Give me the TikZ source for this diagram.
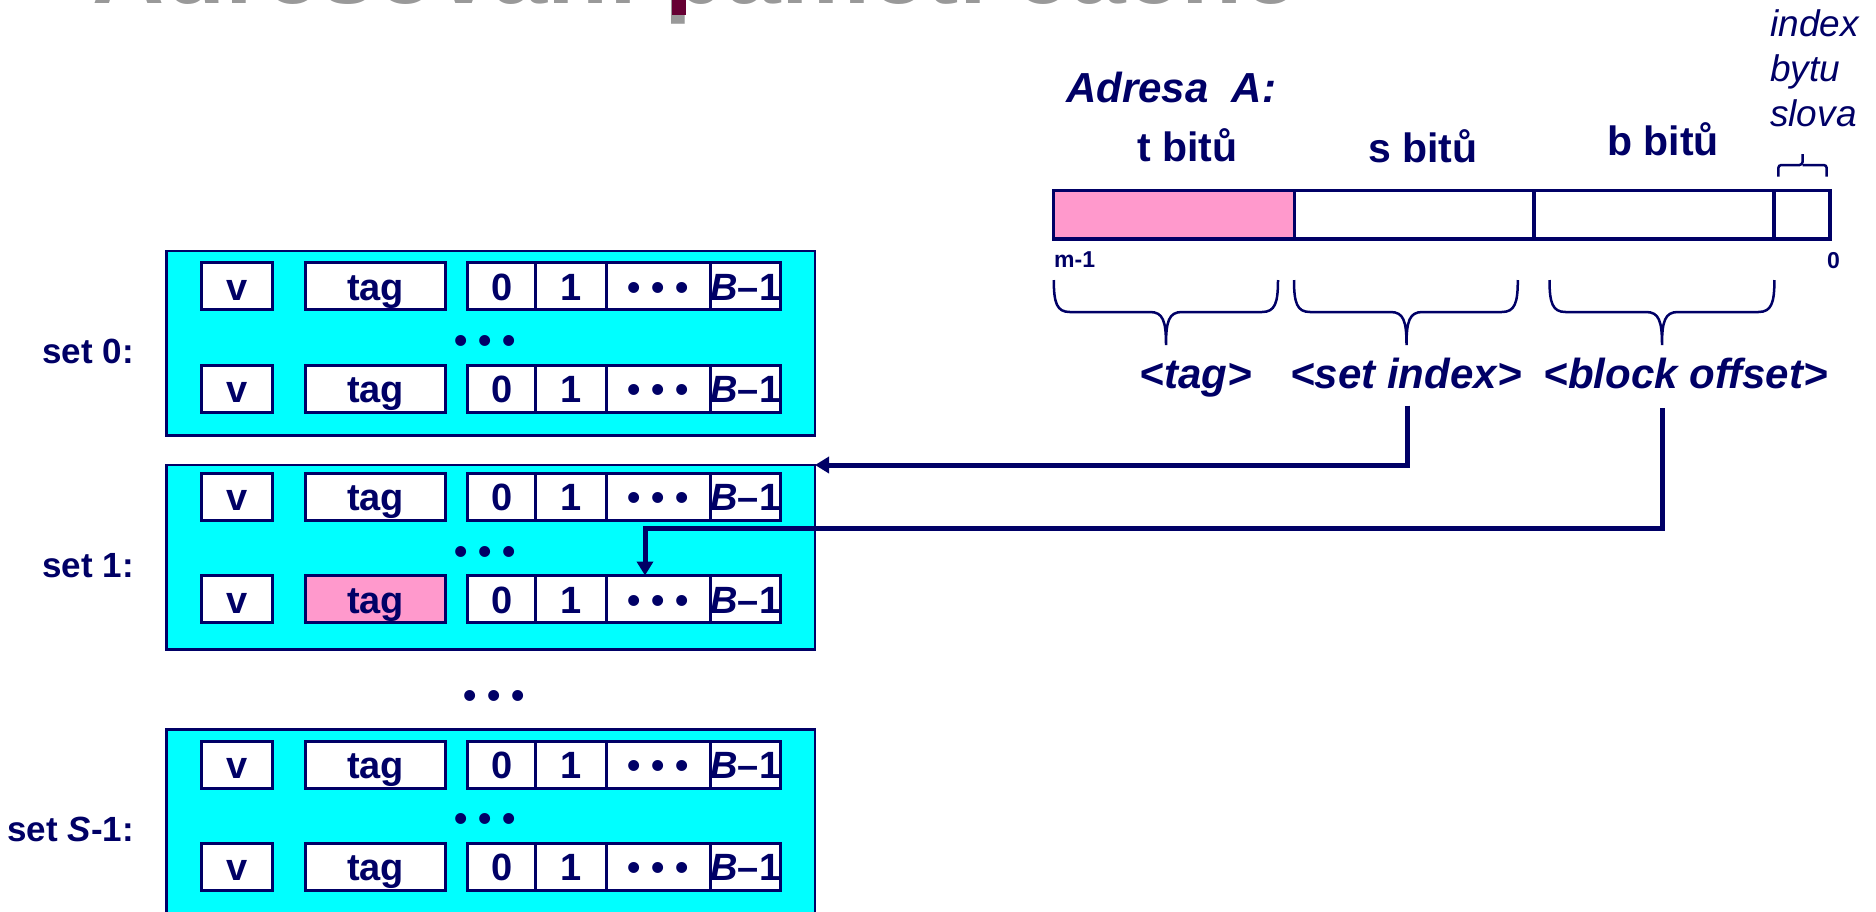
\documentclass[tikz,border=0pt]{standalone}
\usepackage{fontspec}
\setmainfont{Liberation Sans}
\usetikzlibrary{positioning,arrows.meta}

\definecolor{navy}{RGB}{0,0,102}
\definecolor{tagpink}{RGB}{255,153,204}
\definecolor{setcyan}{RGB}{0,255,255}
\definecolor{titlegray}{RGB}{153,153,153}
\definecolor{titlebar}{RGB}{102,0,51}

\begin{document}
\begin{tikzpicture}[x=1pt,y=-1pt]
		\tikzset{setbox/.style={draw=navy,fill=setcyan,line width=2.5pt,outer sep=0pt,minimum width=648.5pt,minimum height=184.5pt,anchor=north west}}
		\tikzset{cell/.style={draw=navy,fill=white,line width=3pt,inner sep=0pt,outer sep=0pt,
				minimum height=47pt,text height=28pt,text depth=0pt,text=navy,
				font=\bfseries\fontsize{38}{40}\selectfont}}
		\tikzset{dots/.style={text=navy,inner sep=0pt,text height=28pt,text depth=0pt,font=\bfseries\fontsize{38}{40}\selectfont}}
		\tikzset{setlbl/.style={text=navy,inner sep=0pt,anchor=base east,font=\bfseries\fontsize{35}{38}\selectfont}}
		\tikzset{field/.style={draw=navy,line width=3.5pt,inner sep=0pt,outer sep=0pt,minimum height=48.5pt}}
		\tikzset{bits/.style={text=navy,inner sep=0pt,anchor=base,font=\bfseries\fontsize{41}{44}\selectfont}}
		\tikzset{fld/.style={text=navy,inner sep=0pt,anchor=base,font=\bfseries\itshape\fontsize{42}{44}\selectfont}}
		\tikzset{tick/.style={text=navy,inner sep=0pt,font=\bfseries\fontsize{23}{25}\selectfont}}
		\tikzset{brc/.style={draw=navy,line width=2.5pt}}
		\tikzset{conn/.style={draw=navy,line width=5pt,-{Triangle[length=14pt,width=16pt]}}}
		\useasboundingbox (0,0) rectangle (1876,911);

		% slide heading, cut by the top edge
		\begin{scope}
			\clip (0,0) rectangle (1876,911);
			\node[anchor=base west,inner sep=0pt,text=titlegray,font=\bfseries\fontsize{100}{100}\selectfont] (title) at (92,3) {Adresování paměti cache};
			\fill[titlebar] (672,-10) rectangle (686,15);
		\end{scope}

		% the sets
		\node[setbox] (set0) at (166.5,251) {};
		\node[setbox] (set1) at (166.5,465) {};
		\node[setbox] (setS) at (166.5,729.3) {};
		\foreach \s/\r/\y/\tagfill in {0/a/286.2/white,0/b/388.5/white,1/a/496.7/white,1/b/599/tagpink,S/a/764.7/white,S/b/866.8/white}{
			\node[cell,minimum width=70.8pt] (v\s\r) at (236.9,\y) {v};
			\node[cell,minimum width=139.6pt,fill=\tagfill] (tag\s\r) at (375.5,\y) {tag};
			\node[cell,minimum width=68pt,anchor=west] (b0\s\r) at (467.7,\y) {0};
			\node[cell,minimum width=70.8pt,right=0pt of b0\s\r] (b1\s\r) {1};
			\node[cell,minimum width=104pt,right=0pt of b1\s\r] (bd\s\r) {• • •};
			\node[cell,minimum width=69.5pt,right=0pt of bd\s\r] (bl\s\r) {\textit{B}–1};
		}
		\foreach \s/\y in {0/339,1/550,S/817.7}
			\node[dots] (gap\s) at (485,\y) {• • •};
		\node[dots] (gapsets) at (494,694) {• • •};
		\node[setlbl] (lbl0) at (134,363) {set 0:};
		\node[setlbl] (lbl1) at (134,577) {set 1:};
		\node[setlbl] (lblS) at (134,841.5) {set \textit{S}-1:};

		% address A
		\node[field,fill=tagpink,minimum width=240.8pt,anchor=west] (tfld) at (1053.5,214.75) {};
		\node[field,minimum width=239.9pt,right=0pt of tfld] (sfld) {};
		\node[field,minimum width=240pt,right=0pt of sfld] (bfld) {};
		\node[field,minimum width=55.8pt,right=0pt of bfld] (wfld) {};
		\node[fld,anchor=base west] (adr) at (1066,102) {Adresa\ \ A:};
		\node[bits] (tbits) at (1187.5,161.7) {t bitů};
		\node[bits] (sbits) at (1423,162) {s bitů};
		\node[bits] (bbits) at (1663,155) {b bitů};
		\node[tick,anchor=base west] (msb) at (1054,267.3) {m-1};
		\node[tick,anchor=base east] (lsb) at (1840,268.3) {0};
		\foreach \a/\b/\m in {1053.8/1278/1166,1294/1517.8/1406.5,1549.5/1774.4/1662}
			\draw[brc] (\a,280) .. controls (\a,303) and (\a+3,312) .. (\a+16,312) -- (\m-16,312) .. controls (\m-3,312) and (\m,321) .. (\m,345)
				.. controls (\m,321) and (\m+3,312) .. (\m+16,312) -- (\b-16,312) .. controls (\b-3,312) and (\b,303) .. (\b,280);
		\node[fld] (tagname) at (1196,388) {<tag>};
		\node[fld] (idxname) at (1406,388) {<set index>};
		\node[fld] (offname) at (1685.5,388) {<block offset>};
		\draw[brc,rounded corners=3pt] (1778.3,176.7) |- (1802.5,165) -- (1802.5,154);
		\draw[brc,rounded corners=3pt] (1826.7,176.7) |- (1802.5,165);
		\node[anchor=north west,align=left,inner sep=0pt,text=navy,font=\itshape\fontsize{37}{45}\selectfont] (byteidx) at (1770,9.7) {index\\bytu\\slova};

		% set index picks the set, block offset the word
		\coordinate (idxout) at (1407.6,405.7);
		\coordinate (offout) at (1662,408.3);
		\coordinate (hook) at (645,528.3);
		\draw[conn] (idxout) |- (set1.north east);
		\draw[conn] (offout) |- (hook) -- (hook |- bd1b.north);
\end{tikzpicture}
\end{document}
